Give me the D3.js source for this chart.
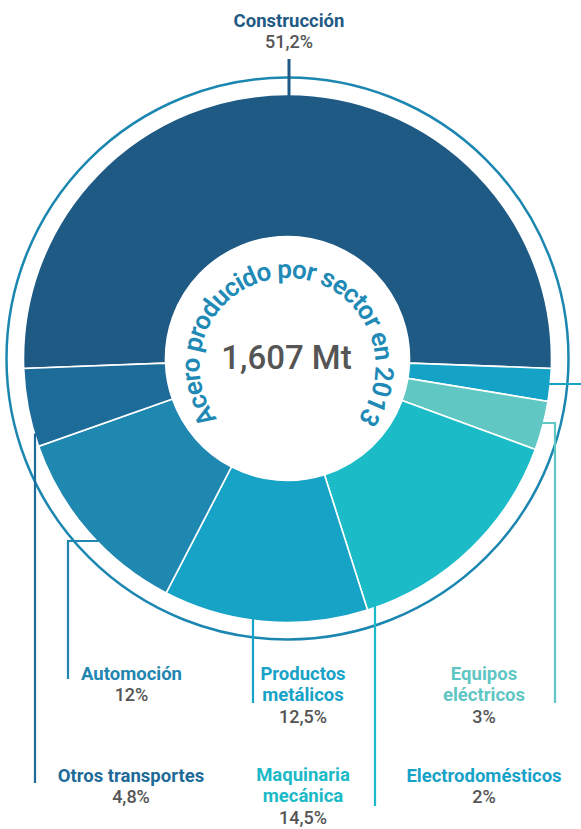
<!DOCTYPE html>
<html>
<head>
<meta charset="utf-8">
<script src="https://cdn.jsdelivr.net/npm/d3@7"></script>
<style>
  html, body { margin: 0; padding: 0; background: #ffffff; }
  svg { display: block; }
</style>
</head>
<body>
<svg id="chart" width="581" height="829"></svg>
<script>
// ---- data ----
const categories = ["Construcción", "Electrodomésticos", "Equipos eléctricos", "Maquinaria mecánica", "Productos metálicos", "Automoción", "Otros transportes"];
const shares = [51.2, 2, 3, 14.5, 12.5, 12, 4.8];
const shareLabels = ["51,2%", "2%", "3%", "14,5%", "12,5%", "12%", "4,8%"];
const labelLines = [["Construcción"], ["Electrodomésticos"], ["Equipos", "eléctricos"], ["Maquinaria", "mecánica"], ["Productos", "metálicos"], ["Automoción"], ["Otros transportes"]];
const centerValue = "1,607 Mt";
const ringTitle = "Acero producido por sector en 2013";

// ---- styles ----
const sliceColors = ["#1f5a85", "#14a2c7", "#60c7c3", "#1bbcc8", "#16a3c6", "#1f88b1", "#1c6b99"];
const textColors = ["#1f5a85", "#17a2c8", "#5fc6c4", "#1cbac8", "#17a2c8", "#1f86b0", "#1e6a98"];

// ---- layout ----
const cx = 287.5, cy = 358.5;
const rOuter = 264, rInner = 122, rRing = 281;
const layout = [
  { x: 289, y: 27, leader: { type: "top", x: 289, y1: 59 } },
  { x: 484, y: 782, leader: { type: "right", y: 384, x2: 581 } },
  { x: 484, y: 680, leader: { type: "elbowRight", y: 423, xv: 555, y2: 703 } },
  { x: 303, y: 781, leader: { type: "vertical", x: 375, y2: 806 } },
  { x: 303, y: 680, leader: { type: "vertical", x: 253, y2: 703 } },
  { x: 131.5, y: 680, leader: { type: "elbowLeft", y: 541, xv: 68, y2: 679 } },
  { x: 131, y: 782, leader: { type: "vertical", x: 35, y2: 783 } }
];
const lineH = 21.3;
const font = "Roboto, 'Open Sans', sans-serif";

const svg = d3.select("#chart");

// outer ring
svg.append("circle")
  .attr("cx", cx).attr("cy", cy).attr("r", rRing)
  .attr("fill", "none").attr("stroke", "#1b87b1").attr("stroke-width", 2.5);

// pie
const total = d3.sum(shares);
const half = shares[0] / total * Math.PI;
const pie = d3.pie().sort(null).value(d => d)
  .startAngle(-half).endAngle(2 * Math.PI - half);
const arcs = pie(shares);
const arc = d3.arc().innerRadius(rInner).outerRadius(rOuter);

const g = svg.append("g").attr("transform", `translate(${cx},${cy})`);
g.selectAll("path.slice").data(arcs).join("path")
  .attr("class", "slice")
  .attr("d", arc)
  .attr("fill", (d, i) => sliceColors[i])
  .attr("stroke", "#ffffff").attr("stroke-width", 1.6);

g.append("circle").attr("r", rInner).attr("fill", "#ffffff");

function edgeY(x, lower) {
  const dx = x - cx;
  const dy = Math.sqrt(Math.max(0, rOuter * rOuter - dx * dx));
  return lower ? cy + dy : cy - dy;
}
function edgeX(y, right) {
  const dy = y - cy;
  const dx = Math.sqrt(Math.max(0, rOuter * rOuter - dy * dy));
  return right ? cx + dx : cx - dx;
}

// leaders
const leaders = svg.append("g").attr("fill", "none");
layout.forEach((L, i) => {
  const ld = L.leader;
  let pts;
  if (ld.type === "top") {
    pts = [[ld.x, ld.y1], [ld.x, edgeY(ld.x, false) + 2]];
  } else if (ld.type === "right") {
    pts = [[edgeX(ld.y, true) - 2, ld.y], [ld.x2, ld.y]];
  } else if (ld.type === "elbowRight") {
    pts = [[edgeX(ld.y, true) - 2, ld.y], [ld.xv, ld.y], [ld.xv, ld.y2]];
  } else if (ld.type === "elbowLeft") {
    pts = [[edgeX(ld.y, false) + 2, ld.y], [ld.xv, ld.y], [ld.xv, ld.y2]];
  } else {
    pts = [[ld.x, edgeY(ld.x, true) - 2], [ld.x, ld.y2]];
  }
  leaders.append("path")
    .attr("d", d3.line()(pts))
    .attr("stroke", i === 0 ? sliceColors[0] : textColors[i])
    .attr("stroke-width", i === 0 ? 3 : 2.2);
});

// labels
const labels = svg.append("g").attr("font-family", font).attr("text-anchor", "middle");
categories.forEach((c, i) => {
  const L = layout[i];
  const t = labels.append("text").attr("font-size", 18.5).attr("font-weight", 700);
  labelLines[i].forEach((ln, k) => {
    t.append("tspan").attr("x", L.x).attr("y", L.y + k * lineH)
      .attr("fill", textColors[i]).text(ln);
  });
  labels.append("text")
    .attr("x", L.x).attr("y", L.y + labelLines[i].length * lineH)
    .attr("font-size", 18).attr("font-weight", 500)
    .attr("fill", "#555555").text(shareLabels[i]);
});

// center value
svg.append("text")
  .attr("x", cx - 1).attr("y", 369)
  .attr("text-anchor", "middle")
  .attr("font-family", font).attr("font-size", 33).attr("font-weight", 500)
  .attr("fill", "#555555")
  .text(centerValue);

// curved title
const tcx = 287.5, tcy = 366, tr = 88;
const defs = svg.append("defs");
defs.append("path").attr("id", "ringPath")
  .attr("d", `M ${tcx} ${tcy + tr} A ${tr} ${tr} 0 1 1 ${tcx} ${tcy - tr} A ${tr} ${tr} 0 1 1 ${tcx} ${tcy + tr}`);
svg.append("text")
  .attr("font-family", font).attr("font-size", 26).attr("font-weight", 600)
  .attr("fill", "#2189b5")
  .append("textPath")
  .attr("href", "#ringPath")
  .attr("startOffset", "50%")
  .attr("text-anchor", "middle")
  .attr("textLength", 390)
  .attr("lengthAdjust", "spacing")
  .text(ringTitle);
</script>
</body>
</html>
